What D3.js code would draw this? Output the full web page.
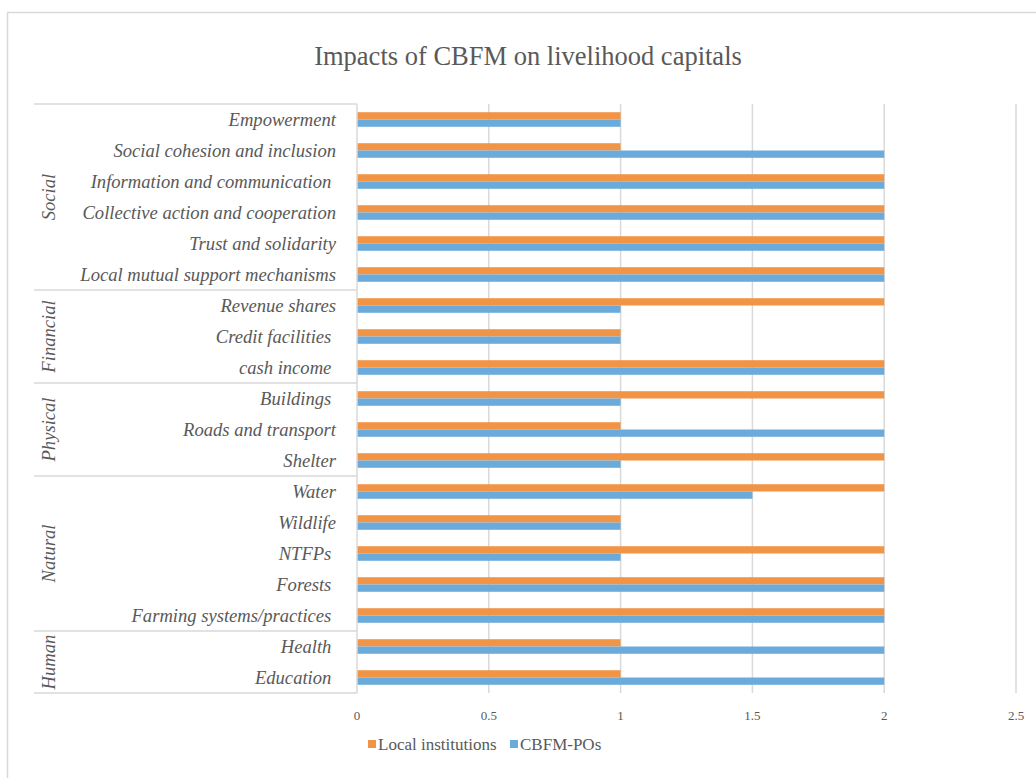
<!DOCTYPE html>
<html>
<head>
<meta charset="utf-8">
<script src="https://cdn.jsdelivr.net/npm/d3@7"></script>
<style>
  html, body { margin: 0; padding: 0; background: #fff; }
  svg { display: block; }
</style>
</head>
<body>
<svg id="chart" width="1036" height="778"></svg>
<script>
// Livelihood capital indicators, top to bottom
const categories = [
  "Empowerment",
  "Social cohesion and inclusion",
  "Information and communication ",
  "Collective action and cooperation",
  "Trust and solidarity",
  "Local mutual support mechanisms",
  "Revenue shares",
  "Credit facilities ",
  "cash income ",
  "Buildings ",
  "Roads and transport",
  "Shelter",
  "Water",
  "Wildlife",
  "NTFPs ",
  "Forests ",
  "Farming systems/practices ",
  "Health ",
  "Education "
];

// Capital group of each indicator block
const groups = ["Social", "Financial", "Physical", "Natural", "Human"];
const groupSizes = [6, 3, 3, 5, 2];

const seriesNames = ["Local institutions", "CBFM-POs"];
const localInstitutions = [1, 1, 2, 2, 2, 2, 2, 1, 2, 2, 1, 2, 2, 1, 2, 2, 2, 1, 1];
const cbfmPOs           = [1, 2, 2, 2, 2, 2, 1, 1, 2, 1, 2, 1, 1.5, 1, 1, 2, 2, 2, 2];

const xTicks = [0, 0.5, 1, 1.5, 2, 2.5];
const xTickLabels = ["0", "0.5", "1", "1.5", "2", "2.5"];

const colors = ["#F29445", "#6BABDB"];
const gridColor = "#d9d9d9";
const textColor = "#595959";
const serif = "Liberation Serif";

const svg = d3.select("#chart");

// Outer chart frame
svg.append("rect")
  .attr("x", 7.5).attr("y", 12.5)
  .attr("width", 1040).attr("height", 770)
  .attr("fill", "none").attr("stroke", gridColor).attr("stroke-width", 1.5);

// Title
svg.append("text")
  .attr("x", 528).attr("y", 65)
  .attr("text-anchor", "middle")
  .attr("font-family", serif)
  .attr("font-size", 26.5)
  .attr("fill", textColor)
  .text("Impacts of CBFM on livelihood capitals");

const plot = { left: 357, right: 1016, top: 104, bottom: 693 };

const x = d3.scaleLinear().domain([0, 2.5]).range([plot.left, plot.right]);
const y = d3.scaleBand().domain(d3.range(categories.length))
  .range([plot.top, plot.bottom]).paddingInner(0.53).paddingOuter(0.265);
const ySeries = d3.scaleBand().domain([0, 1]).range([0, y.bandwidth()]);

// Vertical gridlines
svg.append("g").selectAll("line")
  .data(xTicks.slice(1))
  .join("line")
  .attr("x1", d => x(d)).attr("x2", d => x(d))
  .attr("y1", plot.top).attr("y2", plot.bottom)
  .attr("stroke", gridColor).attr("stroke-width", 1.5);

// X tick labels
svg.append("g").selectAll("text")
  .data(xTicks)
  .join("text")
  .attr("x", d => x(d)).attr("y", 720)
  .attr("text-anchor", "middle")
  .attr("font-family", serif)
  .attr("font-size", 13)
  .attr("fill", textColor)
  .text((d, i) => xTickLabels[i]);

// Bars
const series = [localInstitutions, cbfmPOs];
series.forEach((vals, s) => {
  svg.append("g").selectAll("rect")
    .data(vals)
    .join("rect")
    .attr("x", x(0))
    .attr("y", (d, i) => y(i) + ySeries(s))
    .attr("width", d => x(d) - x(0))
    .attr("height", ySeries.bandwidth())
    .attr("fill", colors[s]);
});

// Category axis: vertical line and group separators
const step = (plot.bottom - plot.top) / categories.length;
svg.append("line")
  .attr("x1", plot.left).attr("x2", plot.left)
  .attr("y1", plot.top).attr("y2", plot.bottom)
  .attr("stroke", gridColor).attr("stroke-width", 1.5);

let start = 0;
const boundaries = [0];
groupSizes.forEach(n => { start += n; boundaries.push(start); });

svg.append("g").selectAll("line")
  .data(boundaries)
  .join("line")
  .attr("x1", 34).attr("x2", plot.left)
  .attr("y1", d => plot.top + d * step).attr("y2", d => plot.top + d * step)
  .attr("stroke", gridColor).attr("stroke-width", 1.5);

// Category labels
svg.append("g").selectAll("text")
  .data(categories)
  .join("text")
  .attr("x", 336)
  .attr("y", (d, i) => y(i) + y.bandwidth() / 2)
  .attr("dy", "0.36em")
  .attr("text-anchor", "end")
  .attr("font-family", serif)
  .attr("font-size", 18.6)
  .attr("font-style", "italic")
  .attr("fill", textColor)
  .style("white-space", "pre")
  .text(d => d);

// Group labels, rotated
svg.append("g").selectAll("text")
  .data(groups)
  .join("text")
  .attr("transform", (d, i) => {
    const cy = plot.top + (boundaries[i] + boundaries[i + 1]) / 2 * step;
    return `translate(55,${cy}) rotate(-90)`;
  })
  .attr("text-anchor", "middle")
  .attr("font-family", serif)
  .attr("font-size", 18.6)
  .attr("font-style", "italic")
  .attr("fill", textColor)
  .text(d => d);

// Legend
const legend = svg.append("g").attr("transform", "translate(368,750)");
const legendX = [0, 142];
seriesNames.forEach((name, i) => {
  const g = legend.append("g").attr("transform", `translate(${legendX[i]},0)`);
  g.append("rect").attr("x", 0).attr("y", -10).attr("width", 8).attr("height", 8)
    .attr("fill", colors[i]);
  g.append("text").attr("x", 10).attr("y", 0)
    .attr("font-family", serif)
    .attr("font-size", 17)
    .attr("fill", textColor)
    .text(name);
});
</script>
</body>
</html>
